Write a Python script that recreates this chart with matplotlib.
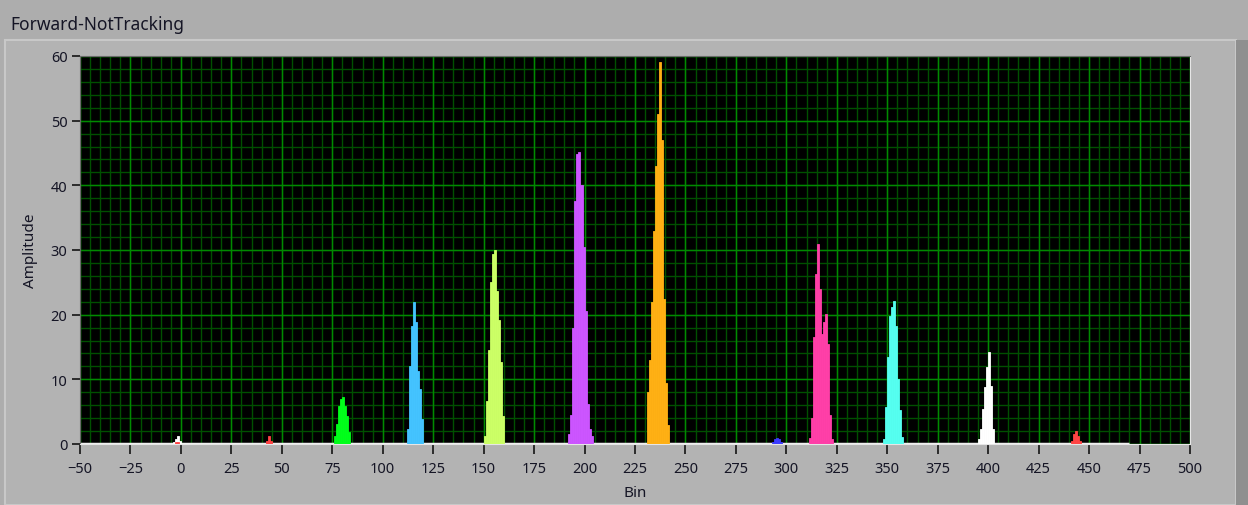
import matplotlib.pyplot as plt
import matplotlib.patches as patches
import numpy as np

plt.rcParams['font.family'] = ['Noto Sans', 'DejaVu Sans']

# Data: each peak is a run of 1-bin wide histogram values starting at a bin
peak_colors = ['#ffffff', '#ff4444', '#00ff1a', '#44c3ff', '#ccff66', '#cc55ff',
               '#ffb014', '#3b3bff', '#ff3fa8', '#55fff0', '#ffffff', '#ff4444']
peak_starts = [-4, 42, 76, 112, 150, 192, 231, 293, 311, 348, 395, 441]
peak_values = [
    [0.3, 0.8, 1.2, 0.4],
    [0.5, 1.2, 0.5],
    [1.3, 3.1, 5.9, 7.0, 7.2, 5.9, 4.4, 1.8],
    [2.3, 12.1, 18.3, 22.0, 18.8, 11.3, 8.5, 3.9],
    [1.3, 6.7, 14.5, 25.0, 29.4, 30.0, 23.7, 19.1, 12.6, 4.4],
    [1.5, 4.5, 18.0, 37.6, 44.8, 45.1, 40.0, 30.4, 20.6, 6.2, 2.3, 1.3],
    [8.0, 13.0, 22.0, 33.0, 43.0, 51.0, 59.0, 47.0, 22.4, 9.5, 3.0],
    [0.3, 0.8, 0.9, 0.7, 0.3],
    [1.0, 4.0, 16.5, 26.3, 31.0, 24.0, 17.0, 18.8, 20.1, 15.5, 4.5, 0.8],
    [0.7, 5.7, 13.4, 19.8, 21.2, 22.1, 18.3, 10.0, 5.2, 1.1],
    [0.7, 2.3, 5.4, 8.8, 11.9, 14.2, 9.0, 2.3],
    [0.5, 1.5, 2.0, 1.3, 0.4],
]
# small red band under the white blip near 0
red_blip_start = -3
red_blip_values = [0.3, 0.3]
baseline_range = [-50, 470]

x_ticks = np.arange(-50, 501, 25)
y_ticks = np.arange(0, 61, 10)
x_minor = np.arange(-50, 501, 5)
y_minor = np.arange(0, 61, 2)

fig = plt.figure(figsize=(12.48, 5.06), dpi=100, facecolor='#adadad')

# panel frame (LabVIEW-ish), kept behind the axes
fig.patches.append(patches.Rectangle((0.004, 0.0), 0.986, 0.918, transform=fig.transFigure,
                                     facecolor='#b3b3b3', edgecolor='#c8c8c8', lw=1.5, zorder=-10))
fig.patches.append(patches.Rectangle((0.990, 0.0), 0.010, 0.918, transform=fig.transFigure,
                                     facecolor='#8f8f8f', edgecolor='none', zorder=-10))

ax = fig.add_axes([0.0641, 0.1206, 0.8894, 0.7668])
ax.set_zorder(5)
ax.set_facecolor('black')

# grid drawn by hand so it stays under the peaks
ax.vlines(x_minor, 0, 60, color='#005000', lw=1.0, zorder=0.6)
ax.hlines(y_minor, -50, 500, color='#005000', lw=1.0, zorder=0.6)
ax.vlines(x_ticks, 0, 60, color='#008a00', lw=1.0, zorder=0.7)
ax.hlines(y_ticks, -50, 500, color='#008a00', lw=1.0, zorder=0.7)

for c, s, v in zip(peak_colors, peak_starts, peak_values):
    x = s + np.arange(len(v))
    ax.bar(x, v, width=1.0, align='edge', color=c, edgecolor=c, lw=0.6, zorder=3)
ax.bar(red_blip_start + np.arange(len(red_blip_values)), red_blip_values, width=1.0,
       align='edge', color='#ff4444', edgecolor='#ff4444', lw=0.6, zorder=4)
ax.plot(baseline_range, [0, 0], color='#f0f0f0', lw=2.5, zorder=2, solid_capstyle='butt')

ax.set_xlim(-50, 500)
ax.set_ylim(0, 60)
ax.set_xticks(x_ticks)
ax.set_yticks(y_ticks)
ax.tick_params(axis='x', which='major', direction='out', length=7, width=1.3, color='#202020',
               labelsize=10.5, labelcolor='#151525', pad=5)
ax.tick_params(axis='y', which='major', direction='out', length=6, width=1.3, color='#202020',
               labelsize=10.5, labelcolor='#151525', pad=3)

for side in ['left', 'top']:
    ax.spines[side].set_color('#6a6a6a')
for side in ['right', 'bottom']:
    ax.spines[side].set_color('#e6e6e6')

ax.set_xlabel('Bin', fontsize=11, color='#151525', labelpad=7)
ax.set_ylabel('Amplitude', fontsize=11, color='#151525', labelpad=9)

fig.text(0.008, 0.950, 'Forward-NotTracking', fontsize=12.5, color='#151525',
         ha='left', va='center')

fig.savefig('out.png', dpi=100, facecolor=fig.get_facecolor())
